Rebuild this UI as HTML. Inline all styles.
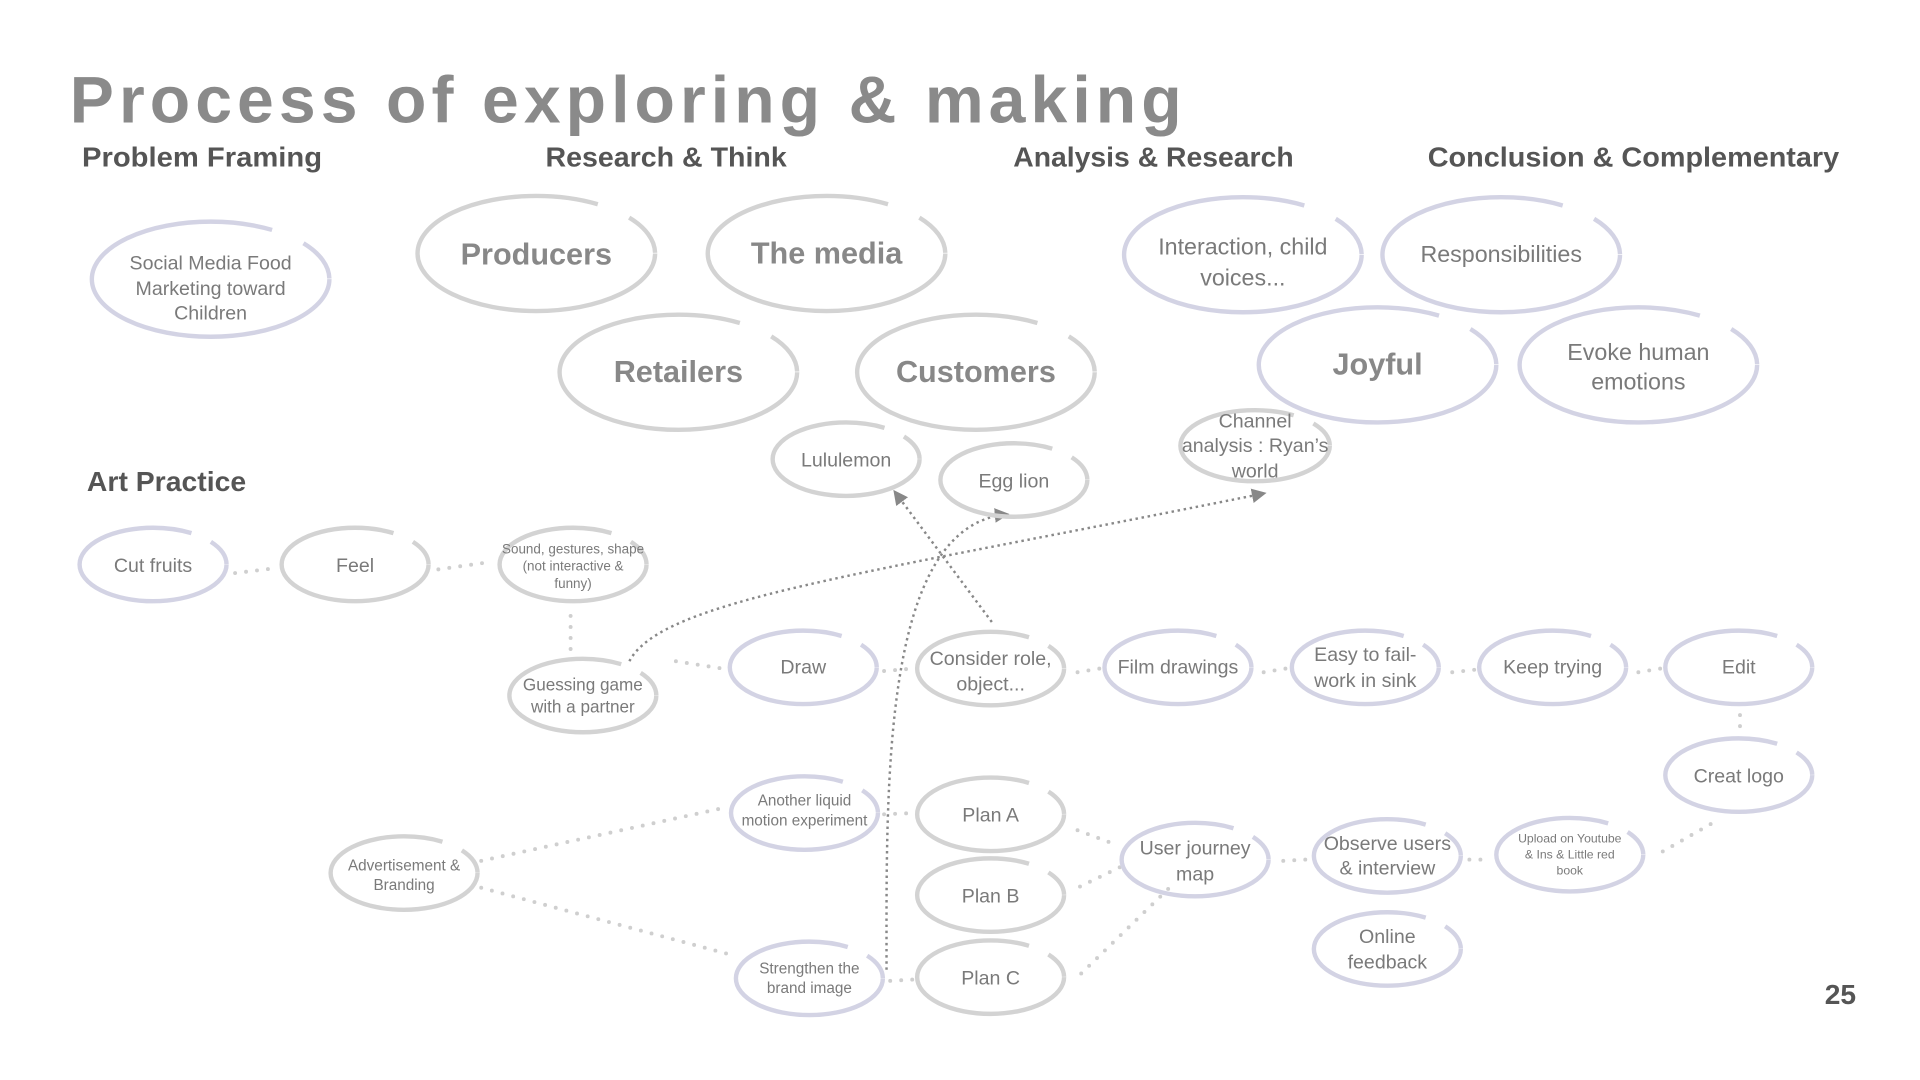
<!DOCTYPE html>
<html><head><meta charset="utf-8"><style>
html,body{margin:0;padding:0;background:#fff;}
svg{display:block;}
text{font-family:"Liberation Sans",sans-serif;text-anchor:middle;}
.t{fill:#7a7a7a;}
.g{fill:none;stroke:#d3d3d3;stroke-width:3.6;}
.l{fill:none;stroke:#d3d3e4;stroke-width:3.6;}
.d{fill:none;stroke:#cfcfcf;stroke-width:3.2;stroke-linecap:round;stroke-dasharray:0 9;}
.a{fill:none;stroke:#888;stroke-width:2;stroke-dasharray:2 3;}
</style></head><body>
<svg width="1920" height="1080" viewBox="0 0 1568 882" xmlns="http://www.w3.org/2000/svg">
<defs><marker id="m" viewBox="0 0 10 10" refX="8" refY="5" markerWidth="6" markerHeight="6" orient="auto"><path d="M0,0 L10,5 L0,10 z" fill="#888"/></marker></defs>
<text x="57" y="100" style="text-anchor:start;font-size:54px;font-weight:bold;fill:#8a8a8a" textLength="908" lengthAdjust="spacing">Process of exploring &amp; making</text>
<g style="font-size:23px;fill:#555;font-weight:bold">
<text x="165" y="136" textLength="196" lengthAdjust="spacingAndGlyphs">Problem Framing</text>
<text x="544" y="136" textLength="197" lengthAdjust="spacingAndGlyphs">Research &amp; Think</text>
<text x="942" y="136" textLength="229" lengthAdjust="spacingAndGlyphs">Analysis &amp; Research</text>
<text x="1334" y="136" textLength="336" lengthAdjust="spacingAndGlyphs">Conclusion &amp; Complementary</text>
<text x="136" y="401" textLength="130" lengthAdjust="spacingAndGlyphs">Art Practice</text>
</g>
<text x="1503" y="820" style="font-size:23px;font-weight:bold;fill:#555">25</text>

<path class="d" d="M192,468 L225,464"/>
<path class="d" d="M358,465 L400,459"/>
<path class="d" d="M466,503 L466,535"/>
<path class="d" d="M552,540 L590,546"/>
<path class="d" d="M722,548 L745,546"/>
<path class="d" d="M880,549 L898,546"/>
<path class="d" d="M1032,549 L1050,546"/>
<path class="d" d="M1186,549 L1204,547"/>
<path class="d" d="M1338,549 L1356,546"/>
<path class="d" d="M1421,584 L1421,602"/>
<path class="d" d="M1397,673 L1355,697"/>
<path class="d" d="M1048,703 L1066,702"/>
<path class="d" d="M1200,702 L1218,702"/>
<path class="d" d="M880,678 L912,690"/>
<path class="d" d="M882,724 L915,708"/>
<path class="d" d="M883,795 L955,725"/>
<path class="d" d="M393,703 L590,660"/>
<path class="d" d="M393,725 L598,780"/>
<path class="d" d="M722,665 L745,664"/>
<path class="d" d="M727,801 L745,800"/>

<path class="a" d="M810,508 L731,402" marker-end="url(#m)"/>
<path class="a" d="M724,792 C724,640 720,430 822,420" marker-end="url(#m)"/>
<path class="a" d="M514,540 C540,490 700,470 1032,403" marker-end="url(#m)"/>

<g style="stroke-dasharray:86 6 8">
<ellipse class="l" cx="172" cy="228" rx="97" ry="47" pathLength="100"/>
<ellipse class="g" cx="438" cy="207" rx="97" ry="47" pathLength="100"/>
<ellipse class="g" cx="675" cy="207" rx="97" ry="47" pathLength="100"/>
<ellipse class="g" cx="554" cy="304" rx="97" ry="47" pathLength="100"/>
<ellipse class="g" cx="797" cy="304" rx="97" ry="47" pathLength="100"/>
<ellipse class="l" cx="1015" cy="208" rx="97" ry="47" pathLength="100"/>
<ellipse class="l" cx="1226" cy="208" rx="97" ry="47" pathLength="100"/>
<ellipse class="l" cx="1125" cy="298" rx="97" ry="47" pathLength="100"/>
<ellipse class="l" cx="1338" cy="298" rx="97" ry="47" pathLength="100"/>
<ellipse class="g" cx="691" cy="375" rx="60" ry="30" pathLength="100"/>
<ellipse class="g" cx="828" cy="392" rx="60" ry="30" pathLength="100"/>
<ellipse class="g" cx="1025" cy="364" rx="61" ry="29" pathLength="100"/>
<ellipse class="l" cx="125" cy="461" rx="60" ry="30" pathLength="100"/>
<ellipse class="g" cx="290" cy="461" rx="60" ry="30" pathLength="100"/>
<ellipse class="g" cx="468" cy="461" rx="60" ry="30" pathLength="100"/>
<ellipse class="g" cx="476" cy="568" rx="60" ry="30" pathLength="100"/>
<ellipse class="l" cx="656" cy="545" rx="60" ry="30" pathLength="100"/>
<ellipse class="g" cx="809" cy="546" rx="60" ry="30" pathLength="100"/>
<ellipse class="l" cx="962" cy="545" rx="60" ry="30" pathLength="100"/>
<ellipse class="l" cx="1115" cy="545" rx="60" ry="30" pathLength="100"/>
<ellipse class="l" cx="1268" cy="545" rx="60" ry="30" pathLength="100"/>
<ellipse class="l" cx="1420" cy="545" rx="60" ry="30" pathLength="100"/>
<ellipse class="l" cx="1420" cy="633" rx="60" ry="30" pathLength="100"/>
<ellipse class="l" cx="657" cy="664" rx="60" ry="30" pathLength="100"/>
<ellipse class="g" cx="330" cy="713" rx="60" ry="30" pathLength="100"/>
<ellipse class="g" cx="809" cy="665" rx="60" ry="30" pathLength="100"/>
<ellipse class="g" cx="809" cy="731" rx="60" ry="30" pathLength="100"/>
<ellipse class="g" cx="809" cy="798" rx="60" ry="30" pathLength="100"/>
<ellipse class="l" cx="976" cy="702" rx="60" ry="30" pathLength="100"/>
<ellipse class="l" cx="1133" cy="699" rx="60" ry="30" pathLength="100"/>
<ellipse class="l" cx="1282" cy="698" rx="60" ry="30" pathLength="100"/>
<ellipse class="l" cx="1133" cy="775" rx="60" ry="30" pathLength="100"/>
<ellipse class="l" cx="661" cy="799" rx="60" ry="30" pathLength="100"/>
</g>

<g class="t" style="font-size:16px">
<text x="172" y="220">Social Media Food</text><text x="172" y="241">Marketing toward</text><text x="172" y="261">Children</text>
</g>
<g class="t" style="font-size:25px;font-weight:bold;fill:#888">
<text x="438" y="216">Producers</text><text x="675" y="215">The media</text>
<text x="554" y="312">Retailers</text><text x="797" y="312">Customers</text>
<text x="1125" y="306">Joyful</text>
</g>
<g class="t" style="font-size:19px">
<text x="1015" y="208">Interaction, child</text><text x="1015" y="233">voices...</text>
<text x="1226" y="214">Responsibilities</text>
<text x="1338" y="294">Evoke human</text><text x="1338" y="318">emotions</text>
</g>
<g class="t" style="font-size:16px">
<text x="691" y="381">Lululemon</text><text x="828" y="398">Egg lion</text>
<text x="1025" y="349">Channel</text><text x="1025" y="369">analysis : Ryan’s</text><text x="1025" y="390">world</text>
<text x="125" y="467">Cut fruits</text><text x="290" y="467">Feel</text>
<text x="656" y="550">Draw</text>
<text x="809" y="543">Consider role,</text><text x="809" y="564">object...</text>
<text x="962" y="550">Film drawings</text>
<text x="1115" y="540">Easy to fail-</text><text x="1115" y="561">work in sink</text>
<text x="1268" y="550">Keep trying</text><text x="1420" y="550">Edit</text><text x="1420" y="639">Creat logo</text>
<text x="809" y="671">Plan A</text><text x="809" y="737">Plan B</text><text x="809" y="804">Plan C</text>
<text x="976" y="698">User journey</text><text x="976" y="719">map</text>
<text x="1133" y="694">Observe users</text><text x="1133" y="714">&amp; interview</text>
<text x="1133" y="770">Online</text><text x="1133" y="791">feedback</text>
</g>
<g class="t" style="font-size:14px">
<text x="476" y="564">Guessing game</text><text x="476" y="582">with a partner</text>
</g>
<g class="t" style="font-size:12.5px">
<text x="657" y="658">Another liquid</text><text x="657" y="674">motion experiment</text>
<text x="330" y="711">Advertisement &amp;</text><text x="330" y="727">Branding</text>
<text x="661" y="795">Strengthen the</text><text x="661" y="811">brand image</text>
</g>
<g class="t" style="font-size:11px">
<text x="468" y="452">Sound, gestures, shape</text><text x="468" y="466">(not interactive &amp;</text><text x="468" y="480">funny)</text>
</g>
<g class="t" style="font-size:10px">
<text x="1282" y="688">Upload on Youtube</text><text x="1282" y="701">&amp; Ins &amp; Little red</text><text x="1282" y="714">book</text>
</g>
</svg>
</body></html>
